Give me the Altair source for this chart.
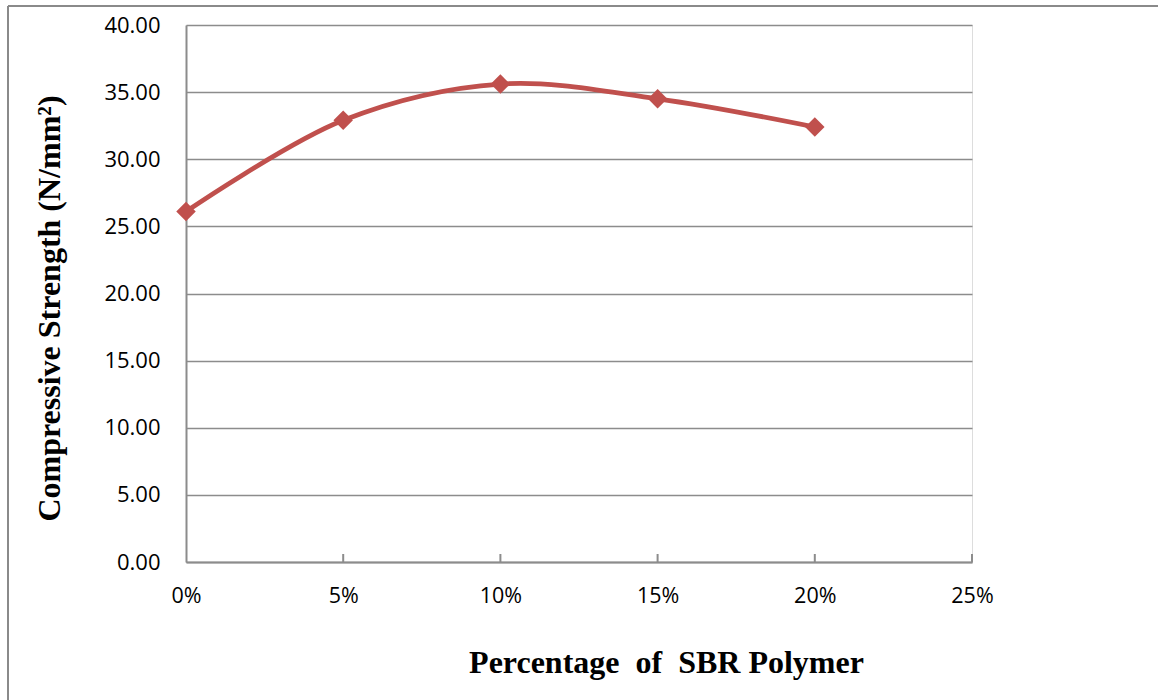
import altair as alt
import pandas as pd

# data
sbr_percent = [0, 5, 10, 15, 20]
strength = [26.1, 32.9, 35.6, 34.5, 32.4]
x_ticks = [0, 5, 10, 15, 20, 25]
y_ticks = [0, 5, 10, 15, 20, 25, 30, 35, 40]

df = pd.DataFrame({"pct": sbr_percent, "cs": strength})
tick_df = pd.DataFrame({"pct": x_ticks[1:]})

W, H = 786, 537
GRID = "#8c8c8c"
RED = "#c0504d"

x_scale = alt.Scale(domain=[0, 25], nice=False)
y_scale = alt.Scale(domain=[0, 40], nice=False)

x_axis = alt.Axis(
    values=x_ticks, labelExpr="datum.value + '%'", grid=False, ticks=False,
    labelFlush=False, labelOverlap=False,
    domainColor=GRID, domainWidth=2, labelFont="Open Sans", labelFontSize=21.5,
    labelColor="#000", labelPadding=23,
    title="Percentage\u00a0 of\u00a0 SBR Polymer", titleFont="Liberation Serif",
    titleFontSize=32, titleFontWeight="bold", titleColor="#000",
    titleX=480, titleY=110, titleBaseline="alphabetic", titleAnchor="middle",
)
y_axis = alt.Axis(
    values=y_ticks, format=".2f", grid=True, gridColor=GRID, gridWidth=1.5,
    labelFlush=False, labelOverlap=False,
    ticks=False, domainColor=GRID, domainWidth=2, labelFont="Open Sans",
    labelFontSize=22, labelColor="#000", labelPadding=26,
    title="Compressive Strength (N/mm²)", titleFont="Liberation Serif",
    titleFontSize=32, titleFontWeight="bold", titleColor="#000",
    titleX=-137, titleY=283, titleBaseline="middle", titleAngle=-90,
)

line = alt.Chart(df).mark_line(
    color=RED, strokeWidth=4.8, interpolate="catmull-rom",
    point=alt.OverlayMarkDef(shape="diamond", size=380, color=RED, filled=True, opacity=1),
).encode(
    x=alt.X("pct:Q", scale=x_scale, axis=x_axis),
    y=alt.Y("cs:Q", scale=y_scale, axis=y_axis),
)

ticks = alt.Chart(tick_df).mark_rule(color=GRID, strokeWidth=2).encode(
    x=alt.X("pct:Q", scale=x_scale),
    y=alt.value(H - 8), y2=alt.value(H),
)

border_top = alt.Chart(df).mark_rule(color="#8a8a8a", strokeWidth=2).encode(
    x=alt.value(-178), x2=alt.value(1158 - 186), y=alt.value(-19),
)
border_left = alt.Chart(df).mark_rule(color="#8a8a8a", strokeWidth=2).encode(
    x=alt.value(-178), y=alt.value(-19), y2=alt.value(700),
)

chart = alt.layer(ticks, line, border_top, border_left).properties(
    width=W, height=H,
    autosize=alt.AutoSizeParams(type="none"),
    padding={"left": 186, "top": 25, "right": 1158 - 186 - W, "bottom": 700 - 25 - H},
).configure_view(stroke=None).configure(background="white")

chart.save("out.html", embed_options={"renderer": "svg", "actions": False})
